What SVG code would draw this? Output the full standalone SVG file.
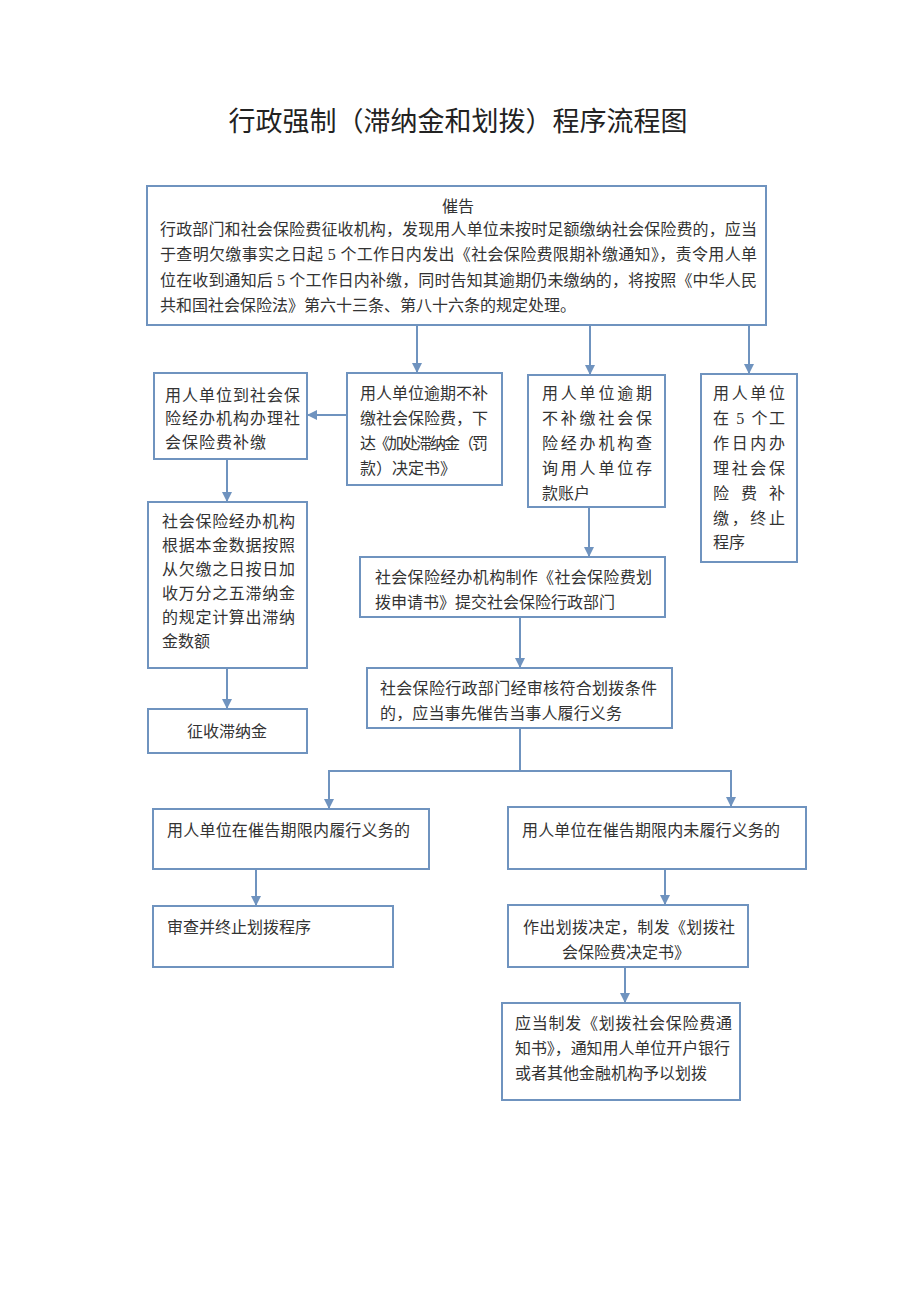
<svg xmlns="http://www.w3.org/2000/svg" width="920" height="1301" viewBox="0 0 920 1301">
<defs>
<style>
.box{fill:#fff;stroke:#6f93bf;stroke-width:2}
.t{font-family:"Liberation Serif","Noto Sans CJK SC",serif;font-size:16px;fill:#333}
.title{font-family:"Liberation Serif","Noto Sans CJK SC",serif;font-size:27px;fill:#222}
.c{fill:none;stroke:#6f93bf;stroke-width:2}
</style>
<marker id="ah" markerUnits="userSpaceOnUse" markerWidth="10" markerHeight="10" refX="10" refY="5" orient="auto">
<path d="M0,0 L10,5 L0,10 z" fill="#6f93bf"/>
</marker>
</defs>
<rect width="920" height="1301" fill="#fff"/>
<text class="title" x="458" y="131" text-anchor="middle">行政强制（滞纳金和划拨）程序流程图</text>

<g id="connectors">
<line class="c" x1="417" y1="325" x2="417" y2="373" marker-end="url(#ah)"/>
<line class="c" x1="590" y1="325" x2="590" y2="375" marker-end="url(#ah)"/>
<line class="c" x1="749" y1="325" x2="749" y2="374" marker-end="url(#ah)"/>
<line class="c" x1="347" y1="415" x2="307" y2="415" marker-end="url(#ah)"/>
<line class="c" x1="227" y1="459" x2="227" y2="502" marker-end="url(#ah)"/>
<line class="c" x1="227" y1="668" x2="227" y2="709" marker-end="url(#ah)"/>
<line class="c" x1="589" y1="507" x2="589" y2="557" marker-end="url(#ah)"/>
<line class="c" x1="520" y1="617" x2="520" y2="668" marker-end="url(#ah)"/>
<polyline class="c" points="520,728 520,771"/>
<polyline class="c" points="329,771 731,771"/>
<line class="c" x1="329" y1="770" x2="329" y2="809" marker-end="url(#ah)"/>
<line class="c" x1="731" y1="770" x2="731" y2="807" marker-end="url(#ah)"/>
<line class="c" x1="256" y1="869" x2="256" y2="906" marker-end="url(#ah)"/>
<line class="c" x1="665" y1="869" x2="665" y2="905" marker-end="url(#ah)"/>
<line class="c" x1="625" y1="967" x2="625" y2="1003" marker-end="url(#ah)"/>
</g>

<g id="n-top">
<rect class="box" x="147" y="186" width="619" height="139"/>
<text class="t" x="458" y="212" text-anchor="middle">催告</text>
<text class="t" x="160" y="235" textLength="597" lengthAdjust="spacing">行政部门和社会保险费征收机构，发现用人单位未按时足额缴纳社会保险费的，应当</text>
<text class="t" x="160" y="260" textLength="597" lengthAdjust="spacing">于查明欠缴事实之日起 5 个工作日内发出《社会保险费限期补缴通知》，责令用人单</text>
<text class="t" x="160" y="286" textLength="597" lengthAdjust="spacing">位在收到通知后 5 个工作日内补缴，同时告知其逾期仍未缴纳的，将按照《中华人民</text>
<text class="t" x="160" y="311">共和国社会保险法》第六十三条、第八十六条的规定处理。</text>
</g>

<g id="n-a">
<rect class="box" x="154" y="373" width="153" height="86"/>
<text class="t" x="165" y="401" textLength="135" lengthAdjust="spacing">用人单位到社会保</text>
<text class="t" x="165" y="424" textLength="135" lengthAdjust="spacing">险经办机构办理社</text>
<text class="t" x="165" y="448" textLength="101" lengthAdjust="spacing">会保险费补缴</text>
</g>

<g id="n-b">
<rect class="box" x="347" y="373" width="155" height="112"/>
<text class="t" x="360" y="399" textLength="128" lengthAdjust="spacing">用人单位逾期不补</text>
<text class="t" x="360" y="424" textLength="128" lengthAdjust="spacing">缴社会保险费，下</text>
<text class="t" x="360" y="449" textLength="128" lengthAdjust="spacing">达《加处滞纳金（罚</text>
<text class="t" x="360" y="474">款）决定书》</text>
</g>

<g id="n-c">
<rect class="box" x="528" y="375" width="137" height="132"/>
<text class="t" x="542" y="399" textLength="110" lengthAdjust="spacing">用人单位逾期</text>
<text class="t" x="542" y="424" textLength="110" lengthAdjust="spacing">不补缴社会保</text>
<text class="t" x="542" y="449" textLength="110" lengthAdjust="spacing">险经办机构查</text>
<text class="t" x="542" y="474" textLength="110" lengthAdjust="spacing">询用人单位存</text>
<text class="t" x="542" y="499">款账户</text>
</g>

<g id="n-d">
<rect class="box" x="701" y="374" width="96" height="188"/>
<text class="t" x="713" y="399" textLength="72" lengthAdjust="spacing">用人单位</text>
<text class="t" x="713" y="424" textLength="72" lengthAdjust="spacing">在 5 个工</text>
<text class="t" x="713" y="449" textLength="72" lengthAdjust="spacing">作日内办</text>
<text class="t" x="713" y="474" textLength="72" lengthAdjust="spacing">理社会保</text>
<text class="t" x="713" y="499" textLength="72" lengthAdjust="spacing">险费补</text>
<text class="t" x="713" y="524" textLength="72" lengthAdjust="spacing">缴，终止</text>
<text class="t" x="713" y="548">程序</text>
</g>

<g id="n-g">
<rect class="box" x="148" y="502" width="159" height="166"/>
<text class="t" x="162" y="527" textLength="133" lengthAdjust="spacing">社会保险经办机构</text>
<text class="t" x="162" y="551" textLength="133" lengthAdjust="spacing">根据本金数据按照</text>
<text class="t" x="162" y="575" textLength="133" lengthAdjust="spacing">从欠缴之日按日加</text>
<text class="t" x="162" y="599" textLength="133" lengthAdjust="spacing">收万分之五滞纳金</text>
<text class="t" x="162" y="623" textLength="133" lengthAdjust="spacing">的规定计算出滞纳</text>
<text class="t" x="162" y="647">金数额</text>
</g>

<g id="n-h">
<rect class="box" x="148" y="709" width="159" height="44"/>
<text class="t" x="227" y="737" text-anchor="middle">征收滞纳金</text>
</g>

<g id="n-e">
<rect class="box" x="360" y="557" width="305" height="60"/>
<text class="t" x="375" y="583" textLength="277" lengthAdjust="spacing">社会保险经办机构制作《社会保险费划</text>
<text class="t" x="375" y="608">拨申请书》提交社会保险行政部门</text>
</g>

<g id="n-f">
<rect class="box" x="367" y="668" width="305" height="60"/>
<text class="t" x="380" y="694" textLength="277" lengthAdjust="spacing">社会保险行政部门经审核符合划拨条件</text>
<text class="t" x="380" y="719" textLength="242" lengthAdjust="spacing">的，应当事先催告当事人履行义务</text>
</g>

<g id="n-left">
<rect class="box" x="153" y="809" width="276" height="60"/>
<text class="t" x="167" y="836" textLength="243" lengthAdjust="spacing">用人单位在催告期限内履行义务的</text>
</g>

<g id="n-right">
<rect class="box" x="508" y="807" width="298" height="62"/>
<text class="t" x="522" y="836" textLength="258" lengthAdjust="spacing">用人单位在催告期限内未履行义务的</text>
</g>

<g id="n-stop">
<rect class="box" x="153" y="906" width="240" height="61"/>
<text class="t" x="167" y="933">审查并终止划拨程序</text>
</g>

<g id="n-decide">
<rect class="box" x="508" y="905" width="240" height="62"/>
<text class="t" x="523" y="933" textLength="212" lengthAdjust="spacing">作出划拨决定，制发《划拨社</text>
<text class="t" x="626" y="958" text-anchor="middle">会保险费决定书》</text>
</g>

<g id="n-notice">
<rect class="box" x="502" y="1003" width="238" height="97"/>
<text class="t" x="515" y="1029" textLength="217" lengthAdjust="spacing">应当制发《划拨社会保险费通</text>
<text class="t" x="515" y="1054" textLength="215" lengthAdjust="spacing">知书》，通知用人单位开户银行</text>
<text class="t" x="515" y="1079">或者其他金融机构予以划拨</text>
</g>
</svg>
